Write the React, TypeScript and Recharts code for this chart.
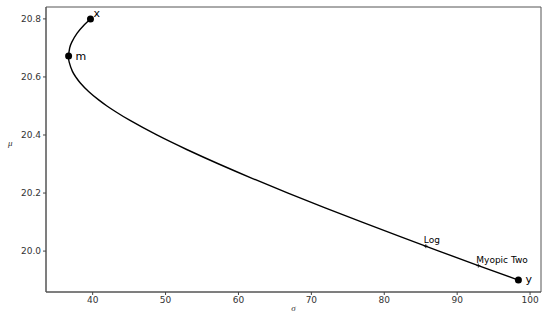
import {
  ComposedChart,
  Line,
  ReferenceArea,
  Scatter,
  XAxis,
  YAxis,
} from 'recharts';

// frontier, from x (top) down to y (bottom right)
const frontierSigma = [
  39.7, 38.86, 37.85, 37.14, 36.85, 36.7, 36.79, 37.21, 37.68, 38.28, 39.44, 40.87,
  41.96, 43.16, 45.13, 48.8, 52.9, 57.3, 61.95, 66.8, 71.8, 76.96, 82.2, 87.5, 92.9, 98.4,
];
const frontierMu = [
  20.8, 20.78, 20.75, 20.72, 20.7, 20.672, 20.65, 20.62, 20.6, 20.58, 20.55, 20.52,
  20.5, 20.48, 20.45, 20.4, 20.35, 20.3, 20.25, 20.2, 20.15, 20.1, 20.05, 20.0, 19.95, 19.9,
];

const bigNames = ['x', 'm', 'y'];
const bigSigma = [39.7, 36.7, 98.4];
const bigMu = [20.8, 20.672, 19.9];

const smallNames = ['Log', 'Myopic Two'];
const smallSigma = [85.7, 92.9];
const smallMu = [20.017, 19.95];

const xTicks = [40, 50, 60, 70, 80, 90, 100];
const yTicks = [20.0, 20.2, 20.4, 20.6, 20.8];

const frontier = frontierSigma.map((s, i) => ({ sigma: s, mu: frontierMu[i] }));
const bigPoints = bigNames.map((n, i) => ({ name: n, sigma: bigSigma[i], mu: bigMu[i] }));
const smallPoints = smallNames.map((n, i) => ({ name: n, sigma: smallSigma[i], mu: smallMu[i] }));

const font = "'DejaVu Sans', sans-serif";
const xDomain = [33.6, 101.5];
const yDomain = [19.859, 20.841];

const bigOffsets: Record<string, [number, number]> = {
  x: [3, -2],
  m: [7, 4],
  y: [7, 3],
};

function BigDot(props: any) {
  const { cx, cy, payload } = props;
  const [dx, dy] = bigOffsets[payload.name];
  return (
    <g>
      <circle cx={cx} cy={cy} r={3.5} fill="#000" />
      <text x={cx + dx} y={cy + dy} fontSize={11} fontFamily={font} fill="#000">
        {payload.name}
      </text>
    </g>
  );
}

function SmallMark(props: any) {
  const { cx, cy, payload } = props;
  return (
    <g>
      <line x1={cx - 2} x2={cx + 2} y1={cy} y2={cy} stroke="#000" strokeWidth={0.8} />
      <line x1={cx} x2={cx} y1={cy - 2} y2={cy + 2} stroke="#000" strokeWidth={0.8} />
      <text x={cx - 2} y={cy - 3} fontSize={9} fontFamily={font} fill="#000">
        {payload.name}
      </text>
    </g>
  );
}

export default function App() {
  return (
    <div style={{ position: 'absolute', left: 0, top: 0, background: '#fff' }}>
      <ComposedChart width={550} height={318} margin={{ top: 7, right: 9, bottom: 0, left: 6 }}>
        <XAxis
          type="number"
          dataKey="sigma"
          domain={xDomain}
          ticks={xTicks}
          tickLine={{ stroke: '#444' }}
          tickSize={3}
          axisLine={{ stroke: '#555' }}
          tick={{ fontSize: 9, fontFamily: font, fill: '#333' }}
          height={26}
          label={{ value: 'σ', position: 'insideBottom', offset: 7, fontSize: 9, fontStyle: 'italic', fill: '#333' }}
        />
        <YAxis
          type="number"
          dataKey="mu"
          domain={yDomain}
          ticks={yTicks}
          tickFormatter={(v) => Number(v).toFixed(1)}
          tickLine={{ stroke: '#444' }}
          tickSize={3}
          axisLine={{ stroke: '#555' }}
          tick={{ fontSize: 9, fontFamily: font, fill: '#333' }}
          width={40}
          label={{ value: 'μ', position: 'insideLeft', offset: 2, dy: -7, fontSize: 9, fontStyle: 'italic', fill: '#333' }}
        />
        <ReferenceArea
          x1={xDomain[0]}
          x2={xDomain[1]}
          y1={yDomain[0]}
          y2={yDomain[1]}
          fill="none"
          fillOpacity={0}
          stroke="#555"
          strokeWidth={1}
        />
        <Line
          data={frontier}
          dataKey="mu"
          type="natural"
          stroke="#000"
          strokeWidth={1.4}
          dot={false}
          isAnimationActive={false}
        />
        <Scatter data={smallPoints} shape={SmallMark} isAnimationActive={false} />
        <Scatter data={bigPoints} shape={BigDot} isAnimationActive={false} />
      </ComposedChart>
    </div>
  );
}
